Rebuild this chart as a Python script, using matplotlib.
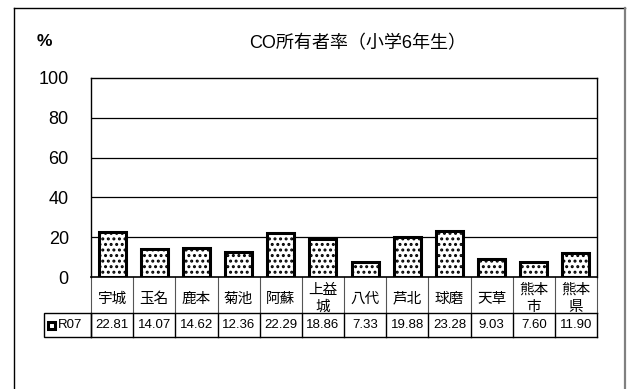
import matplotlib
matplotlib.use("Agg")
import matplotlib.pyplot as plt
from matplotlib.patches import Rectangle
from matplotlib.lines import Line2D
import matplotlib.transforms as mtransforms

plt.rcParams['font.family'] = ['Liberation Sans', 'Noto Sans CJK JP', 'DejaVu Sans']
plt.rcParams['hatch.linewidth'] = 1.4

title = "CO所有者率（小学6年生）"
categories = ["宇城", "玉名", "鹿本", "菊池", "阿蘇", "上益\n城", "八代", "芦北", "球磨", "天草", "熊本\n市", "熊本\n県"]
series_name = "R07"
values = [22.81, 14.07, 14.62, 12.36, 22.29, 18.86, 7.33, 19.88, 23.28, 9.03, 7.60, 11.90]
value_labels = ["22.81", "14.07", "14.62", "12.36", "22.29", "18.86", "7.33", "19.88", "23.28", "9.03", "7.60", "11.90"]
yticks = [0, 20, 40, 60, 80, 100]

W, H = 635, 389
fig = plt.figure(figsize=(W / 100, H / 100), dpi=100)

def fx(px):
    return px / W

def fy(py):
    return 1 - py / H

# outer frame
fig.add_artist(Line2D([fx(13.5), fx(13.5)], [fy(7.5), 0], color='black', lw=1.0, transform=fig.transFigure))
fig.add_artist(Line2D([fx(13.5), fx(624.5)], [fy(7.5), fy(7.5)], color='black', lw=1.0, transform=fig.transFigure))
fig.add_artist(Line2D([fx(624.5), fx(624.5)], [fy(7.5), 0], color='#808080', lw=1.6, transform=fig.transFigure))

left, right, top, bottom = 91, 597, 78, 277
ax = fig.add_axes([fx(left), fy(bottom), fx(right) - fx(left), fy(top) - fy(bottom)])

n = len(categories)
x = list(range(n))
ax.bar(x, values, width=0.64, facecolor='white', edgecolor='black', linewidth=2.2, hatch='...', zorder=3)

ax.set_xlim(-0.5, n - 0.5)
ax.set_ylim(0, 100)
ax.set_yticks(yticks)
ax.set_yticklabels([str(v) for v in yticks], fontsize=13)
ax.tick_params(axis='y', length=0, pad=16)
ax.set_xticks([])
for v in yticks[1:-1]:
    ax.axhline(v, color='black', lw=0.9, zorder=1)
for s in ax.spines.values():
    s.set_color('black')
    s.set_linewidth(1.0)
ax.spines['bottom'].set_linewidth(1.2)

# table under the axes
trans = mtransforms.blended_transform_factory(ax.transData, ax.transAxes)
ax_h = bottom - top
def ay(py):
    return (bottom - py) / ax_h

row1_bot = 313
row2_bot = 337
ax.add_line(Line2D([-0.5, n - 0.5], [ay(row1_bot), ay(row1_bot)], color='black', lw=1.0, transform=trans, clip_on=False))
ax.add_line(Line2D([-0.5, n - 0.5], [ay(row2_bot), ay(row2_bot)], color='black', lw=1.0, transform=trans, clip_on=False))
for i in range(n + 1):
    xb = i - 0.5
    ax.add_line(Line2D([xb, xb], [ay(bottom), ay(row1_bot)], color='#555555', lw=0.8, transform=trans, clip_on=False))
    ax.add_line(Line2D([xb, xb], [ay(row1_bot), ay(row2_bot)], color='black', lw=1.0, transform=trans, clip_on=False))
for i, (c, vl) in enumerate(zip(categories, value_labels)):
    ax.text(i, ay(298.5), c, ha='center', va='center', fontsize=10.5,
            linespacing=1.3, transform=trans, clip_on=False)
    ax.text(i, ay((row1_bot + row2_bot) / 2 + 0.5), vl, ha='center', va='center', fontsize=9.5,
            transform=trans, clip_on=False)

# row header cell
hdr_left = 44
fig.add_artist(Rectangle((fx(hdr_left), fy(row2_bot)), fx(left) - fx(hdr_left), fy(row1_bot) - fy(row2_bot),
                         facecolor='none', edgecolor='black', lw=1.0, transform=fig.transFigure))
fig.add_artist(Rectangle((fx(48), fy(329)), fx(55) - fx(48), fy(322) - fy(329),
                         facecolor='white', edgecolor='black', lw=2.2, transform=fig.transFigure))
fig.text(fx(57.5), fy(325.5), series_name, ha='left', va='center', fontsize=9.5)

# title and unit
fig.text(fx(358), fy(44), title, ha='center', va='center', fontsize=13)
fig.text(fx(44), fy(41), "%", ha='center', va='center', fontsize=12.5, fontweight='bold')

fig.savefig("out.png", dpi=100)
